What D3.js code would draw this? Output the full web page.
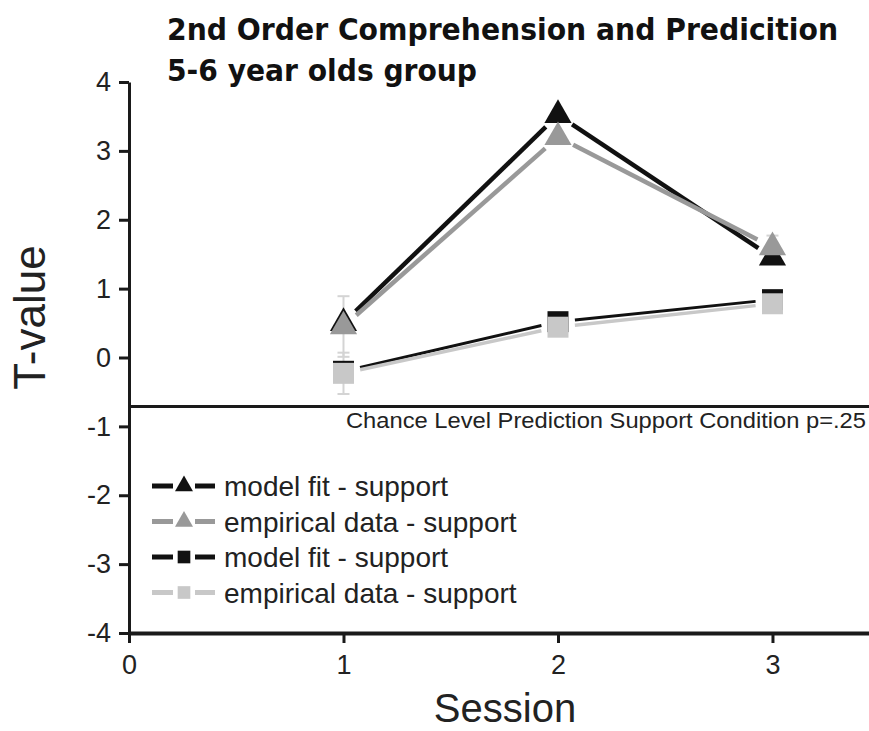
<!DOCTYPE html>
<html>
<head>
<meta charset="utf-8">
<script src="https://cdn.jsdelivr.net/npm/d3@7"></script>
<style>
  html, body { margin: 0; padding: 0; background: #fff; }
  svg { display: block; }
</style>
</head>
<body>
<script>
// Sessions and T-values per series
const sessions = [1, 2, 3];
const modelTri = [0.5, 3.52, 1.45];
const empTri = [0.45, 3.2, 1.6];
const empTriErr = [0.44, 0.05, 0.17];
const modelSq = [-0.2, 0.52, 0.84];
const empSq = [-0.23, 0.44, 0.78];
const empSqErr = [0.3, 0.05, 0.05];
const chanceLevel = -0.71;
const xTicks = [0, 1, 2, 3];
const yTicks = [-4, -3, -2, -1, 0, 1, 2, 3, 4];
const legendLabels = ["model fit - support", "empirical data - support", "model fit - support", "empirical data - support"];

const W = 869, H = 731;
const svg = d3.select("body").append("svg").attr("width", W).attr("height", H);

const x = d3.scaleLinear().domain([0, 3.45]).range([129, 869]);
const y = d3.scaleLinear().domain([-4, 4]).range([633, 82]);

const axisColor = "#1a1a1a";
const font = "'Liberation Sans', Arial, sans-serif";
const titleFont = "'DejaVu Sans Condensed', 'DejaVu Sans', sans-serif";

// Title
svg.append("text").attr("x", 167).attr("y", 40)
  .attr("font-family", titleFont).attr("font-weight", "bold")
  .attr("font-size", 30).attr("fill", "#111")
  .attr("textLength", 671).attr("lengthAdjust", "spacingAndGlyphs")
  .text("2nd Order Comprehension and Predicition");
svg.append("text").attr("x", 167).attr("y", 81)
  .attr("font-family", titleFont).attr("font-weight", "bold")
  .attr("font-size", 30).attr("fill", "#111")
  .attr("textLength", 310).attr("lengthAdjust", "spacingAndGlyphs")
  .text("5-6 year olds group");

// Axes
const yAxis = d3.axisLeft(y).tickValues(yTicks).tickFormat(d => String(d))
  .tickSize(10).tickPadding(8).tickSizeOuter(0);
const gy = svg.append("g").attr("transform", `translate(${x(0)},0)`).call(yAxis);
gy.select(".domain").attr("stroke", axisColor).attr("stroke-width", 3);
gy.selectAll(".tick line").attr("stroke", axisColor).attr("stroke-width", 3);
gy.selectAll(".tick text").attr("font-family", font).attr("font-size", 27).attr("fill", "#222");

const xAxis = d3.axisBottom(x).tickValues(xTicks).tickFormat(d => String(d))
  .tickSize(10).tickPadding(12).tickSizeOuter(0);
const gx = svg.append("g").attr("transform", `translate(0,${y(-4)})`).call(xAxis);
gx.select(".domain").attr("stroke", axisColor).attr("stroke-width", 4);
gx.selectAll(".tick line").attr("stroke", axisColor).attr("stroke-width", 3);
gx.selectAll(".tick text").attr("font-family", font).attr("font-size", 27).attr("fill", "#222");

// Axis titles
svg.append("text").attr("transform", `translate(45,${y(0) - 40}) rotate(-90)`)
  .attr("text-anchor", "middle").attr("font-family", font).attr("font-size", 44).attr("fill", "#222")
  .text("T-value");
svg.append("text").attr("x", 505).attr("y", 722)
  .attr("text-anchor", "middle").attr("font-family", font).attr("font-size", 40).attr("fill", "#222")
  .text("Session");

// Chance level reference line
svg.append("line").attr("x1", x(0)).attr("x2", W).attr("y1", y(chanceLevel)).attr("y2", y(chanceLevel))
  .attr("stroke", axisColor).attr("stroke-width", 3);
svg.append("text").attr("x", 866).attr("y", y(chanceLevel) + 22)
  .attr("text-anchor", "end").attr("font-family", font).attr("font-size", 22).attr("fill", "#222")
  .attr("textLength", 520).attr("lengthAdjust", "spacingAndGlyphs")
  .text("Chance Level Prediction Support Condition p=.25");

const triPath = d3.symbol().type(d3.symbolTriangle).size(320)();
const sqPath = d3.symbol().type(d3.symbolSquare).size(440)();

// Error bars
function errorBars(vals, errs, color) {
  const g = svg.append("g");
  sessions.forEach((s, i) => {
    const cx = x(s), y1 = y(vals[i] + errs[i]), y2 = y(vals[i] - errs[i]);
    g.append("line").attr("x1", cx).attr("x2", cx).attr("y1", y1).attr("y2", y2)
      .attr("stroke", color).attr("stroke-width", 2);
    [y1, y2].forEach(yy => g.append("line").attr("x1", cx - 6).attr("x2", cx + 6)
      .attr("y1", yy).attr("y2", yy).attr("stroke", color).attr("stroke-width", 2));
  });
}

// Connecting segments, stopped short of each marker
function series(vals, color, width, symbol, gap) {
  const g = svg.append("g");
  for (let i = 0; i < sessions.length - 1; i++) {
    const x1 = x(sessions[i]), y1 = y(vals[i]), x2 = x(sessions[i + 1]), y2 = y(vals[i + 1]);
    const dx = x2 - x1, dy = y2 - y1, L = Math.hypot(dx, dy);
    const ux = dx / L, uy = dy / L;
    g.append("line")
      .attr("x1", x1 + ux * gap).attr("y1", y1 + uy * gap)
      .attr("x2", x2 - ux * gap).attr("y2", y2 - uy * gap)
      .attr("stroke", color).attr("stroke-width", width);
  }
  sessions.forEach((s, i) => {
    g.append("path").attr("d", symbol)
      .attr("transform", `translate(${x(s)},${y(vals[i])})`)
      .attr("fill", color);
  });
}

errorBars(empTri, empTriErr, "#d4d4d4");
errorBars(empSq, empSqErr, "#d4d4d4");

series(modelSq, "#111", 3, sqPath, 17);
series(empSq, "#c8c8c8", 3.5, sqPath, 17);
series(modelTri, "#111", 4.5, triPath, 17);
series(empTri, "#999", 4.5, triPath, 17);

// Legend
const legendColors = ["#111", "#999", "#111", "#c8c8c8"];
const legTri = d3.symbol().type(d3.symbolTriangle).size(140)();
const legSq = d3.symbol().type(d3.symbolSquare).size(160)();
const legendSymbols = [legTri, legTri, legSq, legSq];
const lg = svg.append("g");
legendLabels.forEach((lab, i) => {
  const cy = 486 + i * 35.5;
  lg.append("line").attr("x1", 152).attr("x2", 173).attr("y1", cy).attr("y2", cy)
    .attr("stroke", legendColors[i]).attr("stroke-width", 5);
  lg.append("line").attr("x1", 195).attr("x2", 215).attr("y1", cy).attr("y2", cy)
    .attr("stroke", legendColors[i]).attr("stroke-width", 5);
  lg.append("path").attr("d", legendSymbols[i]).attr("transform", `translate(184,${cy})`)
    .attr("fill", legendColors[i]);
  lg.append("text").attr("x", 224).attr("y", cy + 10)
    .attr("font-family", font).attr("font-size", 28).attr("fill", "#222").text(lab);
});
</script>
</body>
</html>
